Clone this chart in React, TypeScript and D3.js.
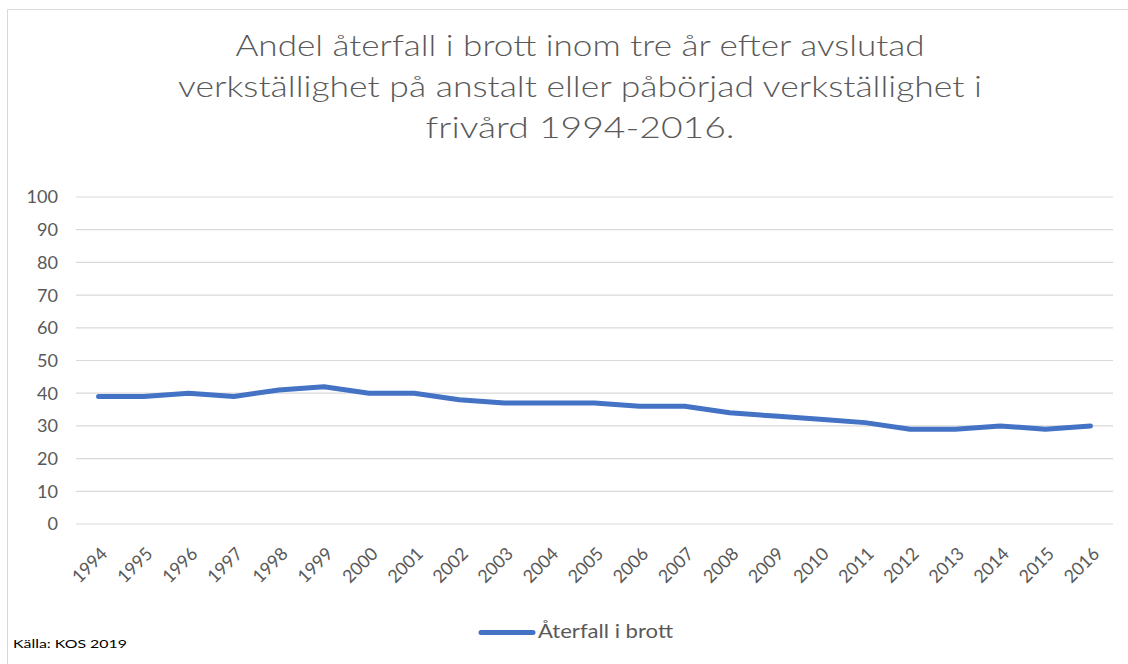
import React from "react";
import * as d3 from "d3";

const years = ["1994","1995","1996","1997","1998","1999","2000","2001","2002","2003","2004","2005","2006","2007","2008","2009","2010","2011","2012","2013","2014","2015","2016"];
const values = [39, 39, 40, 39, 41, 42, 40, 40, 38, 37, 37, 37, 36, 36, 34, 33, 32, 31, 29, 29, 30, 29, 30];
const yTicks = [0, 10, 20, 30, 40, 50, 60, 70, 80, 90, 100];
const titleLines = [
  "Andel återfall i brott inom tre år efter avslutad",
  "verkställighet på anstalt eller  påbörjad verkställighet i",
  "frivård 1994-2016.",
];
const seriesName = "Återfall i brott";
const sourceText = "Källa: KOS 2019";

const W = 1128;
const H = 664;
const FONT = "Lato, 'Open Sans', sans-serif";
const GREY = "#595959";

export default function App() {
  const x = d3.scaleBand<string>().domain(years).range([76, 1113]);
  const y = d3.scaleLinear().domain([0, 100]).range([524, 197]);
  const line = d3
    .line<number>()
    .x((_, i) => (x(years[i]) as number) + x.bandwidth() / 2)
    .y((d) => y(d));

  const titleY = [56, 97, 138];
  const titleLen = [689, 804, 309];

  return (
    <svg width={W} height={H} style={{ position: "absolute", left: 0, top: 0, background: "#fff" }}>
      <rect x={0} y={0} width={W} height={H} fill="#fff" />
      <line x1={7.5} y1={9.5} x2={7.5} y2={H} stroke="#d9d9d9" strokeWidth={1} />
      <line x1={7.5} y1={9.5} x2={W} y2={9.5} stroke="#d9d9d9" strokeWidth={1} />

      {titleLines.map((t, i) => (
        <text
          key={i}
          x={580}
          y={titleY[i]}
          textAnchor="middle"
          fontFamily={FONT}
          fontWeight={300}
          fontSize={30}
          fill={GREY}
          textLength={titleLen[i]}
          lengthAdjust="spacingAndGlyphs"
        >
          {t}
        </text>
      ))}

      {yTicks.map((t) => (
        <g key={t}>
          <line x1={76} x2={1113} y1={y(t)} y2={y(t)} stroke="#d9d9d9" strokeWidth={1.2} />
          <text
            x={58}
            y={y(t)}
            dy="0.36em"
            textAnchor="end"
            fontFamily={FONT}
            fontSize={18}
            fill={GREY}
            textLength={String(t).length * 10.5}
            lengthAdjust="spacingAndGlyphs"
          >
            {t}
          </text>
        </g>
      ))}

      {years.map((yr) => {
        const cx = (x(yr) as number) + x.bandwidth() / 2;
        return (
          <text
            key={yr}
            transform={`translate(${cx + 10},${555}) rotate(-45)`}
            textAnchor="end"
            fontFamily={FONT}
            fontSize={18}
            fill={GREY}
            textLength={41}
            lengthAdjust="spacingAndGlyphs"
          >
            {yr}
          </text>
        );
      })}

      <path
        d={line(values) || ""}
        fill="none"
        stroke="#4472C4"
        strokeWidth={5}
        strokeLinecap="round"
        strokeLinejoin="round"
      />

      <line x1={481} x2={533} y1={632.5} y2={632.5} stroke="#4472C4" strokeWidth={5} strokeLinecap="round" />
      <text
        x={538}
        y={638}
        fontFamily={FONT}
        fontSize={20}
        fill={GREY}
        textLength={135}
        lengthAdjust="spacingAndGlyphs"
      >
        {seriesName}
      </text>

      <text
        x={13}
        y={648}
        fontFamily={FONT}
        fontSize={12}
        fill="#000"
        textLength={114}
        lengthAdjust="spacingAndGlyphs"
      >
        {sourceText}
      </text>
    </svg>
  );
}
